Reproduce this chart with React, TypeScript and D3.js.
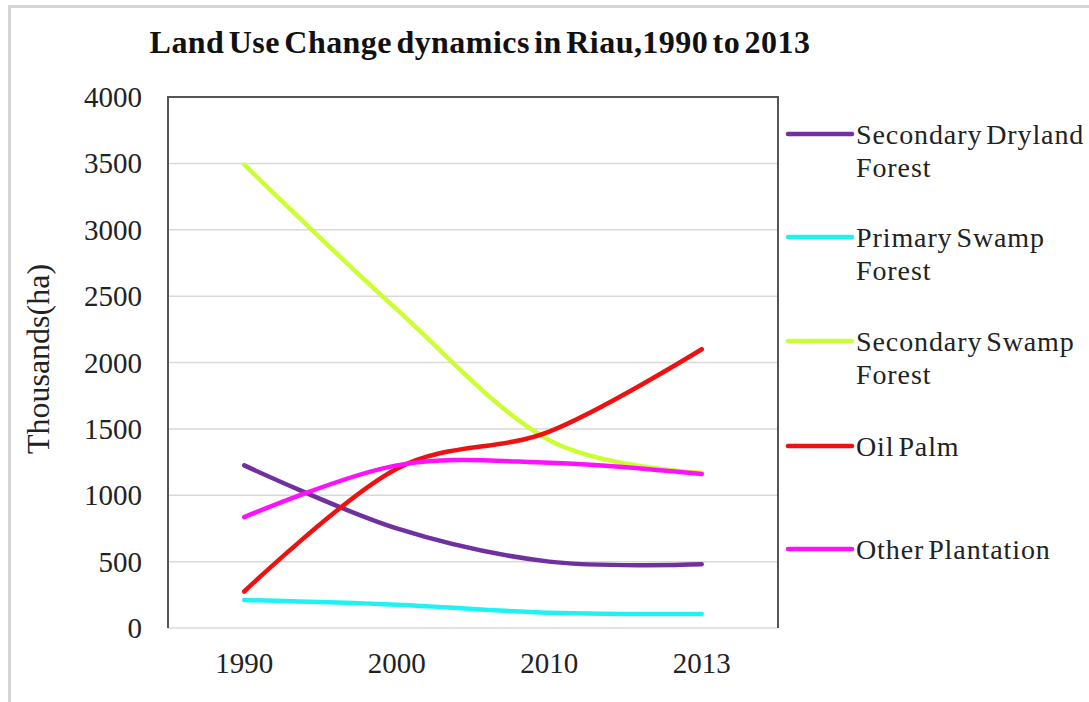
import React from "react";
import * as d3 from "d3";

// Years on the category axis
const years = ["1990", "2000", "2010", "2013"];

// Land cover area per year, thousands of hectares
const secondaryDryland = [1225, 750, 500, 480];
const primarySwamp = [210, 175, 115, 105];
const secondarySwamp = [3490, 2400, 1415, 1170];
const oilPalm = [275, 1200, 1480, 2100];
const otherPlantation = [835, 1225, 1245, 1160];

const yTicks = [0, 500, 1000, 1500, 2000, 2500, 3000, 3500, 4000];

const seriesNames = [
  ["Secondary Dryland", "Forest"],
  ["Primary Swamp", "Forest"],
  ["Secondary Swamp", "Forest"],
  ["Oil  Palm"],
  ["Other Plantation"],
];
const seriesValues = [secondaryDryland, primarySwamp, secondarySwamp, oilPalm, otherPlantation];
const seriesColors = ["#7030a0", "#1ff2f2", "#ccff33", "#ee1111", "#ff11ff"];

const W = 1089;
const H = 702;
const plot = { left: 168, right: 778, top: 97, bottom: 628 };
const serif = "'Liberation Serif', 'Times New Roman', serif";

export default function App() {
  const x = d3
    .scalePoint<string>()
    .domain(years)
    .range([plot.left, plot.right])
    .padding(0.5);
  const y = d3.scaleLinear().domain([0, 4000]).range([plot.bottom, plot.top]);

  const line = d3
    .line<number>()
    .x((_, i) => x(years[i]) as number)
    .y((v) => y(v))
    .curve(d3.curveCardinal.tension(0));

  const legendY = [134, 237, 341, 446, 549];

  return (
    <svg
      width={W}
      height={H}
      style={{ position: "absolute", left: 0, top: 0, background: "#fff" }}
      fontFamily={serif}
    >
      {/* outer chart frame */}
      <rect x={9.5} y={6.5} width={W + 20} height={H + 20} fill="none" stroke="#d4d4d4" strokeWidth={3} />

      <text
        x={480}
        y={42}
        textAnchor="middle"
        dominantBaseline="central"
        fontSize={32}
        fontWeight="bold"
        fill="#111"
        wordSpacing={-4}
        letterSpacing={0.45}
      >
        Land Use Change dynamics in Riau,1990 to 2013
      </text>

      {/* horizontal gridlines */}
      {yTicks.map((t) => (
        <line
          key={t}
          x1={plot.left}
          x2={plot.right}
          y1={y(t)}
          y2={y(t)}
          stroke="#d9d9d9"
          strokeWidth={1.5}
        />
      ))}

      {/* plot frame: top, left, right */}
      <path
        d={`M${plot.left},${plot.bottom}V${plot.top}H${plot.right}V${plot.bottom}`}
        fill="none"
        stroke="#555"
        strokeWidth={2}
      />

      {yTicks.map((t) => (
        <text
          key={t}
          x={142}
          y={y(t)}
          textAnchor="end"
          dominantBaseline="central"
          fontSize={29}
          fill="#222"
        >
          {t}
        </text>
      ))}

      {years.map((yr) => (
        <text
          key={yr}
          x={x(yr)}
          y={663}
          textAnchor="middle"
          dominantBaseline="central"
          fontSize={29}
          fill="#222"
        >
          {yr}
        </text>
      ))}

      <text
        transform={`translate(38,359) rotate(-90)`}
        textAnchor="middle"
        dominantBaseline="central"
        fontSize={32}
        fill="#222"
      >
        Thousands(ha)
      </text>

      {/* series lines */}
      {seriesValues.map((vals, i) => (
        <path
          key={i}
          d={line(vals) || ""}
          fill="none"
          stroke={seriesColors[i]}
          strokeWidth={4.5}
          strokeLinecap="round"
        />
      ))}

      {/* legend */}
      {seriesNames.map((name, i) => (
        <g key={i}>
          <line
            x1={788}
            x2={852}
            y1={legendY[i]}
            y2={legendY[i]}
            stroke={seriesColors[i]}
            strokeWidth={4.5}
            strokeLinecap="round"
          />
          {name.map((ln, j) => (
            <text
              key={j}
              x={856}
              y={legendY[i] + j * 33}
              dominantBaseline="central"
              fontSize={28}
              fill="#222"
              wordSpacing={-4}
              letterSpacing={0.9}
            >
              {ln}
            </text>
          ))}
        </g>
      ))}
    </svg>
  );
}
